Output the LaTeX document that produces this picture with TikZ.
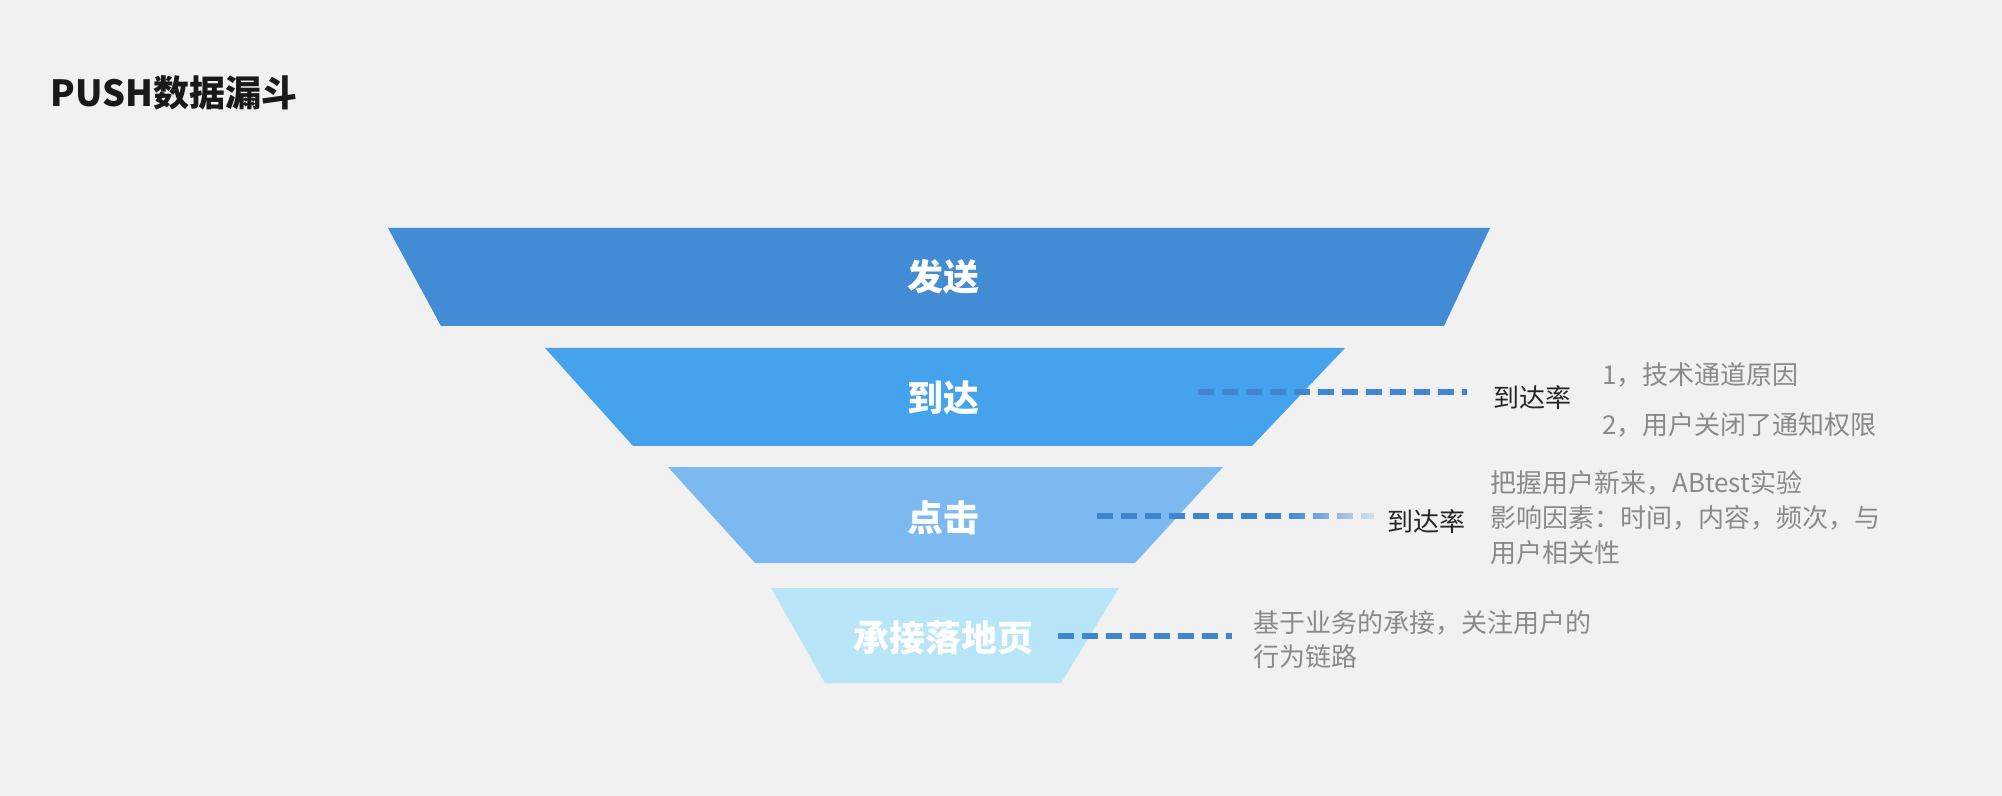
\documentclass[tikz,border=0pt]{standalone}
\usepackage{fontspec}
\setmainfont{Noto Sans CJK SC}
\usetikzlibrary{fadings}
\definecolor{bggray}{RGB}{241, 241, 241}
\definecolor{sendblue}{RGB}{66, 140, 214}
\definecolor{reachblue}{RGB}{68, 163, 236}
\definecolor{clickblue}{RGB}{124, 185, 240}
\definecolor{landblue}{RGB}{184, 229, 248}
\definecolor{dashblue}{RGB}{62, 134, 208}
\definecolor{notegray}{RGB}{138, 138, 138}
\tikzstyle{layerlabel} = [text=white, inner sep=0pt, font=\fontsize{18pt}{22pt}\selectfont\bfseries]
\tikzstyle{dashline} = [draw=dashblue, line width=2.6pt, dash pattern=on 8pt off 4pt]
\tikzstyle{ratelabel} = [text=black!85, inner sep=0pt, font=\fontsize{13pt}{16pt}\selectfont]
\tikzstyle{note} = [text=notegray, inner sep=0pt, anchor=west, align=left, font=\fontsize{13pt}{17.5pt}\selectfont]
\tikzfading[name=dashfade, left color=transparent!0, right color=transparent!100]

\begin{document}
\begin{tikzpicture}[x=0.5pt, y=-0.5pt]
                    \fill[bggray] (0,0) rectangle (2002,796);
                    \useasboundingbox (0,0) rectangle (2002,796);
                    \node[anchor=west, inner sep=0pt, text=black!90, font=\fontsize{18pt}{22pt}\selectfont\bfseries] (title) at (50,93) {PUSH数据漏斗};
                    % funnel layers
                    \fill[sendblue] (388,228) -- (1490,228) -- (1444,326) -- (441,326) -- cycle;
                    \fill[reachblue] (545,348) -- (1345,348) -- (1252,446) -- (633,446) -- cycle;
                    \fill[clickblue] (668,467) -- (1223,467) -- (1135,563) -- (755,563) -- cycle;
                    \fill[landblue] (771,588) -- (1119,588) -- (1061,683) -- (825,683) -- cycle;
                    \node[layerlabel] (send) at (943,277) {发送};
                    \node[layerlabel] (reach) at (943,398) {到达};
                    \node[layerlabel] (click) at (943,518) {点击};
                    \node[layerlabel] (land) at (943,638) {承接落地页};
                    % rates and notes
                    \node[ratelabel] (rate1) at (1532,398) {到达率};
                    \node[ratelabel] (rate2) at (1426,522) {到达率};
                    \node[note] (note1a) at (1602,375) {1，技术通道原因};
                    \node[note] (note1b) at (1602,425) {2，用户关闭了通知权限};
                    \node[note] (note2) at (1490,518) {把握用户新来，ABtest实验\\影响因素：时间，内容，频次，与\\用户相关性};
                    \node[note, font=\fontsize{13pt}{17pt}\selectfont] (note3) at (1253,640) {基于业务的承接，关注用户的\\行为链路};
                    \coordinate (d1) at (1198,392);
                    \coordinate (d2) at (1097,516);
                    \coordinate (d2m) at (1289,516);
                    \coordinate (d3) at (1058,636);
                    \draw[dashline, shorten >=13pt] (d1) -- (d1 -| rate1.west);
                    \draw[dashline] (d2) -- (d2m);
                    \draw[dashline, shorten >=6.5pt, path fading=dashfade] (d2m) -- (d2 -| rate2.west);
                    \draw[dashline, shorten >=10.5pt] (d3) -- (d3 -| note3.west);
                \end{tikzpicture}
\end{document}
